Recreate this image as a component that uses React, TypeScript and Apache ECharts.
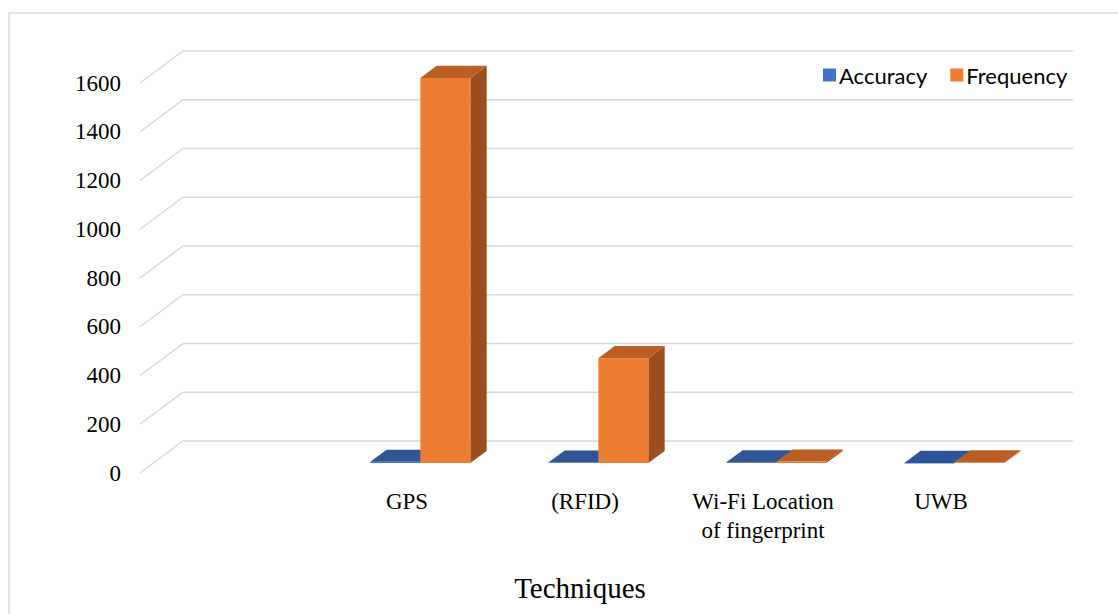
import React, { useEffect, useRef } from "react";
import * as echarts from "echarts";

const categories = ["", "GPS", "(RFID)", "Wi-Fi Location\nof fingerprint", "UWB"];
const accuracy: (number | null)[] = [null, 5, 2, 3, 0.3];
const frequency: (number | null)[] = [null, 1580, 430, 6, 3];
const yTicks = [0, 200, 400, 600, 800, 1000, 1200, 1400, 1600];
const seriesNames = ["Accuracy", "Frequency"];

const DEPTH_X = 43;
const DEPTH_Y = -32;
const F0 = 0.31;
const F1 = 0.69;

const SERIF = "Liberation Serif";

const palettes = [
  { front: "#4472C4", top: "#2F5597", side: "#2F5597" },
  { front: "#ED7D31", top: "#BA5E24", side: "#9B4F1F" },
];

export default function App() {
  const ref = useRef<HTMLDivElement>(null);
  useEffect(() => {
    if (!ref.current) return;
    const chart = echarts.init(ref.current, null, { renderer: "svg" });

    const gridSeries = {
      type: "custom",
      name: "grid",
      z: 1,
      silent: true,
      data: yTicks.map((v) => [0, v]),
      encode: { x: 0, y: 1 },
      renderItem: (params: any, api: any) => {
        const p = api.coord([0, api.value(1)]);
        const cs = params.coordSys;
        const left = cs.x;
        const right = cs.x + cs.width;
        const y = p[1];
        return {
          type: "polyline",
          shape: {
            points: [
              [left, y],
              [left + DEPTH_X, y + DEPTH_Y],
              [right + DEPTH_X, y + DEPTH_Y],
            ],
          },
          style: { stroke: "#D9D9D9", lineWidth: 1.5, fill: "none" },
          silent: true,
        };
      },
    };

    const makeBarSeries = (name: string, values: (number | null)[], idx: number) => ({
      type: "custom",
      name,
      z: 5,
      itemStyle: { color: palettes[idx].front },
      data: values.map((v, i) => [i, v == null ? "-" : v]),
      encode: { x: 0, y: 1 },
      renderItem: (params: any, api: any) => {
        const cat = api.value(0);
        const v = api.value(1);
        if (isNaN(v)) return null;
        const base = api.coord([cat, 0]);
        const top = api.coord([cat, v]);
        const band = api.size([1, 0])[0];
        const bw = (band * 50) / 178;
        const x0 = base[0] - bw + idx * bw;
        const sx = F0 * DEPTH_X;
        const sy = F0 * DEPTH_Y;
        const ddx = (F1 - F0) * DEPTH_X;
        const ddy = (F1 - F0) * DEPTH_Y;
        const fx0 = x0 + sx;
        const fx1 = x0 + bw + sx;
        const ty = top[1] + sy;
        const by = base[1] + sy;
        const pal = palettes[idx];
        return {
          type: "group",
          children: [
            {
              type: "polygon",
              shape: {
                points: [
                  [fx1, ty],
                  [fx1 + ddx, ty + ddy],
                  [fx1 + ddx, by + ddy],
                  [fx1, by],
                ],
              },
              style: { fill: pal.side },
            },
            {
              type: "rect",
              shape: { x: fx0, y: ty, width: fx1 - fx0, height: Math.max(by - ty, 0.5) },
              style: { fill: pal.front },
            },
            {
              type: "polygon",
              shape: {
                points: [
                  [fx0, ty],
                  [fx1, ty],
                  [fx1 + ddx, ty + ddy],
                  [fx0 + ddx, ty + ddy],
                ],
              },
              style: { fill: pal.top },
            },
          ],
        };
      },
    });

    chart.setOption({
      animation: false,
      backgroundColor: "#ffffff",
      textStyle: { fontFamily: SERIF },
      grid: { left: 140, top: 83, width: 890, height: 390, containLabel: false },
      legend: {
        left: 818,
        top: 59,
        itemWidth: 13,
        itemHeight: 13,
        itemGap: 23,
        icon: "rect",
        textStyle: { fontFamily: "Lato", fontSize: 22, color: "#000", padding: [0, 0, 0, -2] },
        data: seriesNames.map((n, i) => ({ name: n, itemStyle: { color: palettes[i].front } })),
      },
      xAxis: {
        type: "category",
        data: categories,
        axisLine: { show: false },
        axisTick: { show: false },
        splitLine: { show: false },
        axisLabel: {
          interval: 0,
          margin: 14,
          fontFamily: SERIF,
          fontSize: 23,
          lineHeight: 29,
          color: "#000",
        },
      },
      yAxis: {
        type: "value",
        min: 0,
        max: 1600,
        interval: 200,
        axisLine: { show: false },
        axisTick: { show: false },
        splitLine: { show: false },
        axisLabel: {
          margin: 19,
          fontFamily: SERIF,
          fontSize: 23,
          color: "#000",
          formatter: (v: number) => String(v),
        },
      },
      graphic: [
        {
          type: "rect",
          shape: { x: 9, y: 13, width: 1300, height: 800 },
          style: { fill: "none", stroke: "#D9D9D9", lineWidth: 1.5 },
          silent: true,
          z: 0,
        },
        {
          type: "text",
          x: 580,
          y: 588,
          style: {
            text: "Techniques",
            fontFamily: SERIF,
            fontSize: 29,
            fill: "#000",
            textAlign: "center",
            textVerticalAlign: "middle",
          },
        },
      ],
      series: [
        gridSeries,
        makeBarSeries(seriesNames[0], accuracy, 0),
        makeBarSeries(seriesNames[1], frequency, 1),
      ],
    });
    return () => chart.dispose();
  }, []);
  return (
    <div
      ref={ref}
      style={{ position: "absolute", left: 0, top: 0, width: 1118, height: 614 }}
    />
  );
}
